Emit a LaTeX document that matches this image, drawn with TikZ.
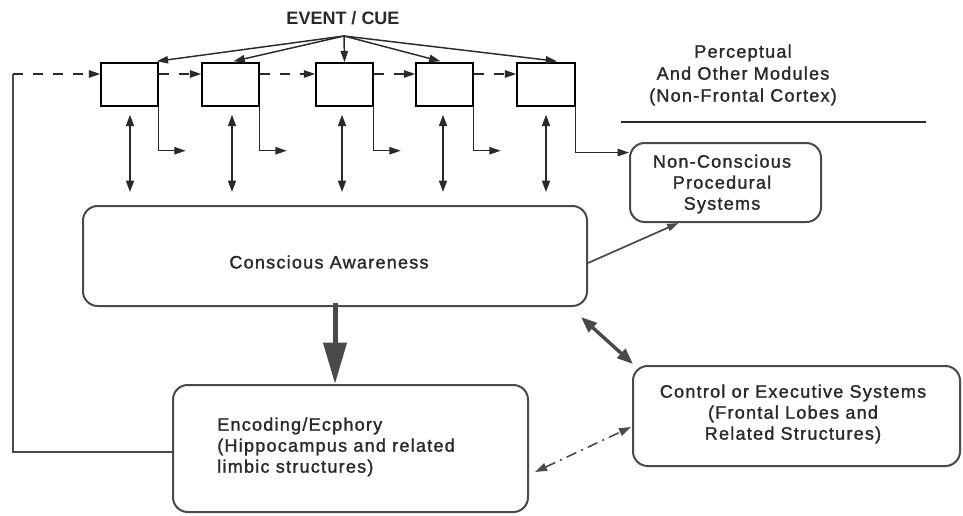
\documentclass[tikz,border=0pt]{standalone}
\usepackage{fontspec}
\setmainfont{Liberation Sans}
\newfontfamily\spaced[LetterSpace=7,FakeBold=1.5]{Liberation Sans}
\usetikzlibrary{arrows.meta,calc}
\definecolor{ink}{HTML}{2A2A2A}
\definecolor{lineg}{HTML}{4A4A4A}
\begin{document}
\begin{tikzpicture}[x=0.75pt,y=-0.75pt,
  txt/.style={font=\spaced\fontsize{13.5}{15.75}\selectfont, text=ink, align=center, inner sep=0pt},
  modbox/.style={draw=black, line width=1.1pt, minimum width=42.75pt, minimum height=32.25pt, inner sep=0pt},
  bigbox/.style={draw=lineg, line width=1.5pt, rounded corners=11pt, inner sep=0pt},
  conn/.style={draw=ink, line width=1.1pt},
  tip/.style={-{Triangle[length=8.5pt,width=5.5pt]}},
  biarr/.style={{Triangle[length=8.5pt,width=6pt]}-{Triangle[length=8.5pt,width=6pt]}},
  dashline/.style={conn, dash pattern=on 7.5pt off 7.5pt}
]
\useasboundingbox (0,0) rectangle (963,515);

% module boxes
\node[modbox] (m1) at (129.5,84.5) {};
\node[modbox] (m2) at (230.5,84.5) {};
\node[modbox] (m3) at (344.5,84.5) {};
\node[modbox] (m4) at (444.5,84.5) {};
\node[modbox, minimum width=43.5pt] (m5) at (546,84.5) {};

% big boxes
\node[bigbox, minimum width=378pt, minimum height=75pt] (CA) at (335,256) {};
\node[txt] (catext) at (329,262) {Conscious Awareness};
\node[bigbox, minimum width=266.25pt, minimum height=95.25pt] (EN) at (350.5,448.5) {};
\node[txt, anchor=west, align=left] (entext) at (217,447) {Encoding/Ecphory\\(Hippocampus and related\\limbic structures)};
\node[bigbox, minimum width=143.25pt, minimum height=59.25pt] (NC) at (725.5,182.5) {};
\node[txt] (nctext) at (722,184) {Non-Conscious\\Procedural\\Systems};
\node[bigbox, minimum width=245.25pt, minimum height=75pt] (CT) at (796.5,416) {};
\node[txt] (cttext) at (793,414) {Control or Executive Systems\\(Frontal Lobes and\\Related Structures)};

% labels
\node[txt, font=\spaced\fontsize{13.5}{16.5}\selectfont] (pmtext) at (743,75) {Perceptual\\And Other Modules\\(Non-Frontal Cortex)};
\draw[conn] (621,122) -- (926,122);
\node[font=\bfseries\fontsize{13.5}{16}\selectfont, text=ink, inner sep=0pt] (ev) at (343,18) {EVENT / CUE};
\coordinate (ap) at (344,36);
\coordinate (tc) at (13,74);

% event arrows
\draw[conn, tip] (ap) -- ($(m1.north east)+(-2,-1)$);
\draw[conn, tip] (ap) -- ($(m2.north)+(3,-1)$);
\draw[conn, tip] (ap) -- (m3.north);
\draw[conn, tip] (ap) -- ($(m4.north)+(-4,-1)$);
\draw[conn, tip] (ap) -- ($(m5.north)+(11,-1)$);

% feedback loop
\draw[draw=lineg, line width=1.6pt] ($(EN.west)+(0,3.5)$) -| (tc);
\draw[dashline, tip] (tc) -- (m1.west |- tc);
\foreach \a/\b in {m1/m2, m2/m3, m3/m4, m4/m5}
  \draw[dashline, tip] (\a.east |- tc) -- (\b.west |- tc);

% outputs
\foreach \m in {m1,m2,m3,m4}
  \draw[conn, tip] (\m.south east) -- ++(0,44) -- ++(27,0);
\draw[conn, tip] (m5.south east) |- ($(NC.west)+(0,-30)$);

% module <-> awareness
\foreach \m/\dx in {m1/0.5, m2/1.5, m3/-2.5, m4/-1.5, m5/0}
  \draw[conn, biarr] ($(\m.south)+(\dx,8)$) -- ($(\m.south |- CA.north)+(\dx,-13)$);

% awareness -> non-conscious
\draw[conn, draw=lineg, line width=1.3pt, tip] ($(CA.east)+(0,7)$) -- ($(NC.south)+(-47,0)$);

% awareness -> encoding (thick)
\draw[draw=lineg, line width=3.75pt, -{Triangle[length=31pt,width=17pt]}] ($(CA.south)+(0,-4)$) -- (CA.south |- EN.north);

% awareness <-> control
\draw[draw=lineg, line width=2.6pt, {Triangle[length=12pt,width=9pt]}-{Triangle[length=12pt,width=9pt]}] ($(CA.south east)+(-7,10)$) -- ($(CT.north west)+(1,-1)$);

% encoding <-> control (dash-dot)
\draw[draw=lineg, line width=1.2pt, dash pattern=on 8pt off 4pt on 1.5pt off 4pt, {Triangle[length=9pt,width=6pt]}-{Triangle[length=9pt,width=6pt]}] ($(EN.east)+(6,23.5)$) -- ($(CT.west)+(-1,11)$);
\end{tikzpicture}
\end{document}
